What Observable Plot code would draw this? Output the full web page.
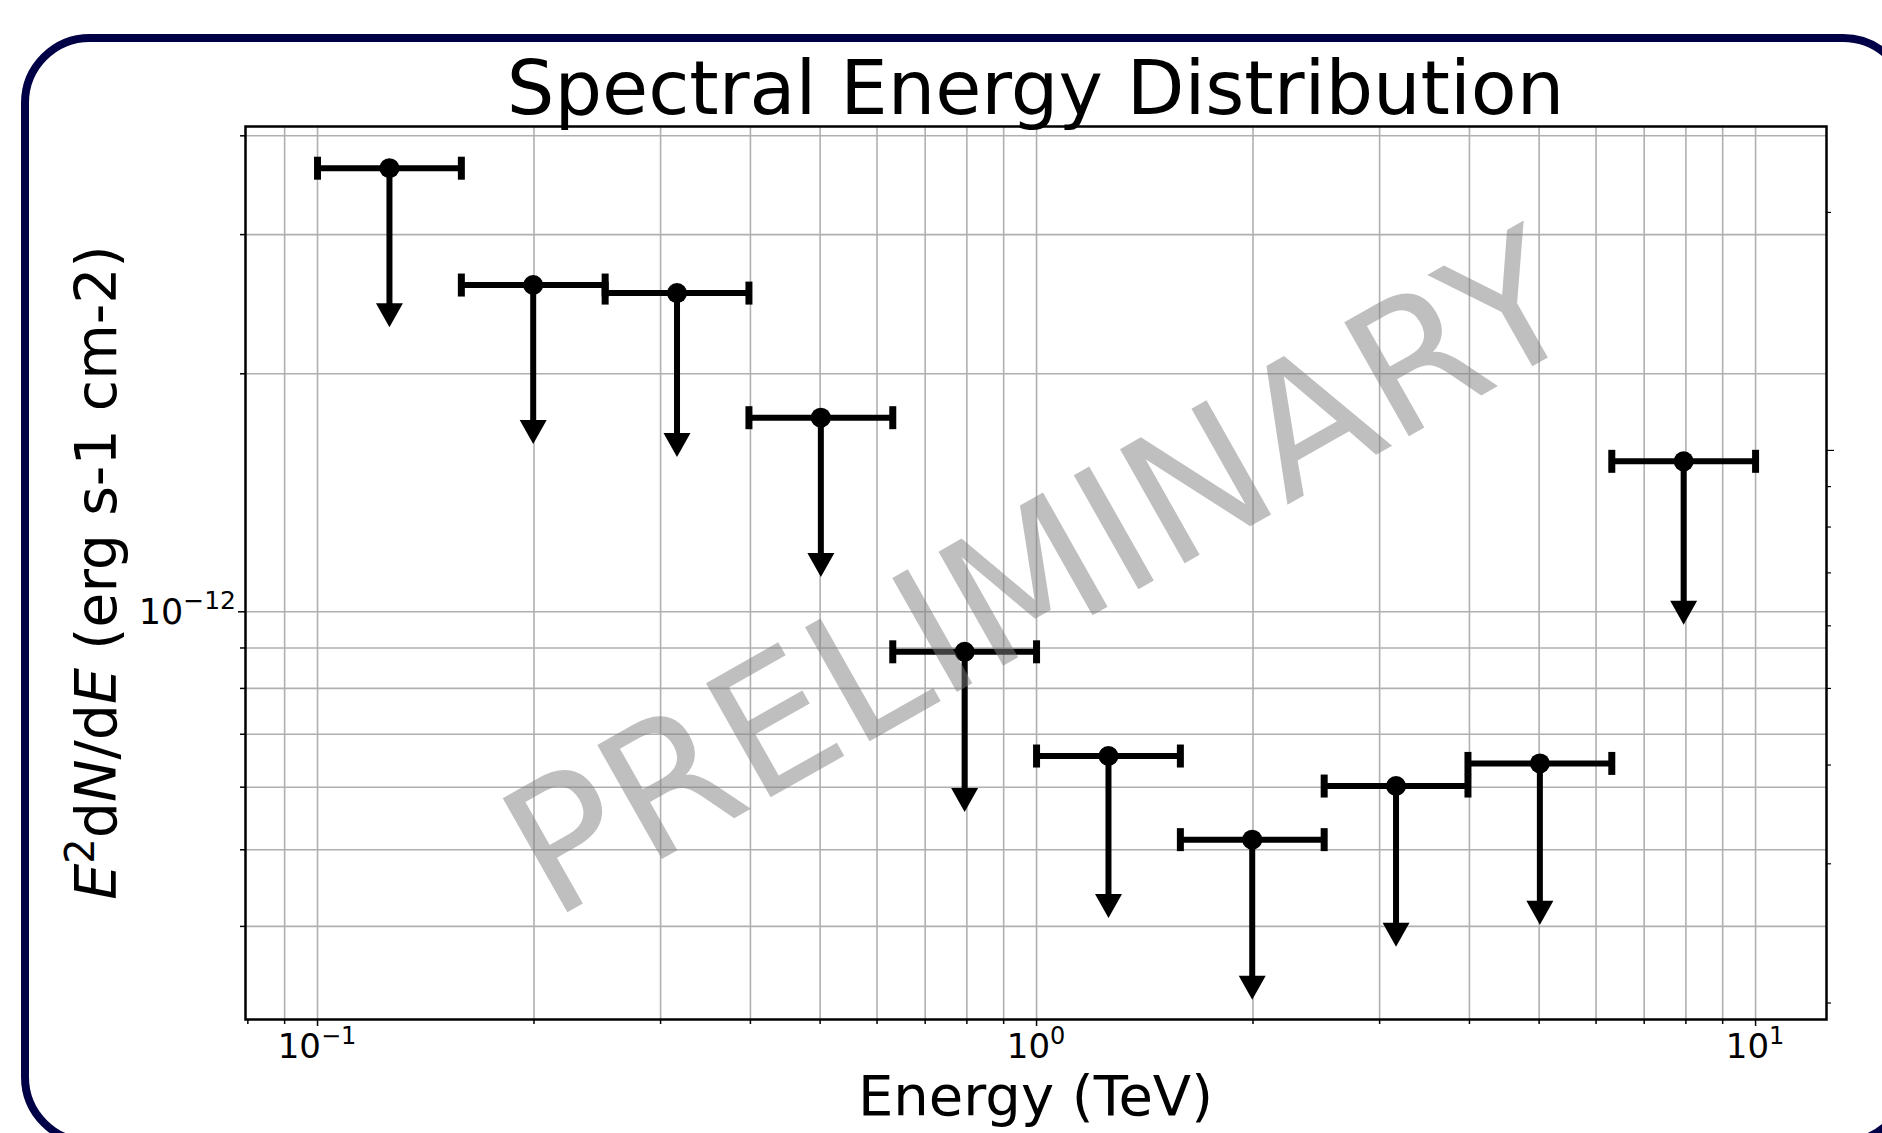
<!DOCTYPE html>
<html>
<head>
<meta charset="utf-8">
<script src="https://cdn.jsdelivr.net/npm/d3@7"></script>
<script src="https://cdn.jsdelivr.net/npm/@observablehq/plot@0.6"></script>
<style>
html, body { margin: 0; padding: 0; background: #fff; }
#chart { position: relative; width: 1882px; height: 1133px; overflow: hidden; }
svg { font-family: "DejaVu Sans", sans-serif; }
</style>
</head>
<body>
<div id="chart"></div>
<script>
// ---- data ----
const energy   = [0.1259, 0.1995, 0.3162, 0.5012, 0.7943, 1.259, 1.995, 3.162, 5.012, 7.943];
const energyLo = [0.1, 0.1585, 0.2512, 0.3981, 0.631, 1.0, 1.585, 2.512, 3.981, 6.31];
const energyHi = [0.1585, 0.2512, 0.3981, 0.631, 1.0, 1.585, 2.512, 3.981, 6.31, 10.0];
const flux     = [3.64e-12, 2.59e-12, 2.53e-12, 1.76e-12, 8.9e-13, 6.57e-13, 5.15e-13, 6.02e-13, 6.43e-13, 1.55e-12];
const arrowTip = [2.29e-12, 1.63e-12, 1.57e-12, 1.107e-12, 5.58e-13, 4.10e-13, 3.23e-13, 3.77e-13, 4.02e-13, 9.63e-13];

const xMajorTicks  = [0.1, 1, 10];
const xMajorLabels = [["10", "\u22121"], ["10", "0"], ["10", "1"]];
const xMinorTicks  = [0.08, 0.09, 0.2, 0.3, 0.4, 0.5, 0.6, 0.7, 0.8, 0.9, 2, 3, 4, 5, 6, 7, 8, 9];
const xGridTicks   = [0.09, 0.2, 0.3, 0.4, 0.5, 0.6, 0.7, 0.8, 0.9, 2, 3, 4, 5, 6, 7, 8, 9];
const yMajorTicks  = [1e-12];
const yMajorLabels = [["10", "\u221212"]];
const yMinorTicks  = [4e-12, 3e-12, 2e-12, 9e-13, 8e-13, 7e-13, 6e-13, 5e-13, 4e-13];
const rightMajorTicks = [1.6e-12];
const rightMinorTicks = [3.2e-12, 1.44e-12, 1.28e-12, 1.12e-12, 9.6e-13, 8.0e-13, 6.4e-13, 4.8e-13, 3.2e-13];

const titleText = "Spectral Energy Distribution";
const xLabelText = "Energy (TeV)";
const watermarkText = "PRELIMINARY";

const xDomain = [0.0794, 12.55];
const yDomain = [3.05e-13, 4.11e-12];

const points = energy.map((e, i) => ({x: e, lo: energyLo[i], hi: energyHi[i], y: flux[i], tip: arrowTip[i]}));
const gridX = [...xGridTicks, ...xMajorTicks];
const gridY = [...yMinorTicks, ...yMajorTicks];

// custom symbols (pixel-sized)
const capSymbol = {draw(ctx) { ctx.rect(-3.5, -11.5, 7, 23); }};
const headSymbol = {draw(ctx) { ctx.moveTo(-13.5, -24); ctx.lineTo(13.5, -24); ctx.lineTo(0, 0); ctx.closePath(); }};

const W = 1882, H = 1133;
const mL = 245, mR = 56, mT = 126, mB = 114;

const chart = Plot.plot({
  width: W, height: H,
  marginLeft: mL, marginRight: mR, marginTop: mT, marginBottom: mB,
  style: {fontFamily: "DejaVu Sans", background: "white", overflow: "hidden"},
  x: {type: "log", domain: xDomain, axis: null, label: null},
  y: {type: "log", domain: yDomain, axis: null, label: null},
  marks: [
    Plot.ruleX(gridX, {x: d => d, stroke: "#b0b0b0", strokeWidth: 1.6}),
    Plot.ruleY(gridY, {y: d => d, stroke: "#b0b0b0", strokeWidth: 1.6}),
    Plot.frame({stroke: "black", strokeWidth: 2.5}),
    Plot.ruleY(points, {y: "y", x1: "lo", x2: "hi", stroke: "black", strokeWidth: 6, ariaLabel: "error-bars"}),
    Plot.dot(points, {x: "lo", y: "y", symbol: capSymbol, fill: "black", stroke: "none"}),
    Plot.dot(points, {x: "hi", y: "y", symbol: capSymbol, fill: "black", stroke: "none"}),
    Plot.arrow(points, {x: "x", y1: "y", y2: "tip", headLength: 0, insetEnd: 20, stroke: "black", strokeWidth: 6, strokeLinecap: "butt"}),
    Plot.dot(points, {x: "x", y: "tip", symbol: headSymbol, fill: "black", stroke: "none"}),
    Plot.dot(points, {x: "x", y: "y", r: 10, fill: "black", stroke: "none"}),
    Plot.axisX({ticks: xMinorTicks, anchor: "bottom", tickSize: 5, strokeWidth: 1.5, tickFormat: () => "", label: null}),
    Plot.axisX({ticks: xMajorTicks, anchor: "bottom", tickSize: 7, strokeWidth: 1.5, tickFormat: () => "", label: null}),
    Plot.axisY({ticks: yMinorTicks, anchor: "left", tickSize: 5, strokeWidth: 1.5, tickFormat: () => "", label: null}),
    Plot.axisY({ticks: yMajorTicks, anchor: "left", tickSize: 7, strokeWidth: 1.5, tickFormat: () => "", label: null}),
    Plot.axisY({ticks: rightMinorTicks, anchor: "right", tickSize: 4, strokeWidth: 1.2, tickFormat: () => "", label: null}),
    Plot.axisY({ticks: rightMajorTicks, anchor: "right", tickSize: 7, strokeWidth: 1.2, tickFormat: () => "", label: null})
  ]
});

document.getElementById("chart").appendChild(chart);

// scales from the library
let sx, sy;
try { const s = chart.scale("x"); sx = v => s.apply(v); } catch (e) { sx = d3.scaleLog(xDomain, [mL, W - mR]); }
try { const s = chart.scale("y"); sy = v => s.apply(v); } catch (e) { sy = d3.scaleLog(yDomain, [H - mB, mT]); }

const svg = d3.select(chart);
const ns = "http://www.w3.org/2000/svg";

// watermark, below data marks
const eb = chart.querySelector('g[aria-label="error-bars"]');
const wm = document.createElementNS(ns, "text");
d3.select(wm)
  .attr("transform", "translate(1070,628) rotate(-29.5)")
  .attr("text-anchor", "middle")
  .attr("font-size", 180)
  .attr("fill", "gray")
  .attr("fill-opacity", 0.5)
  .text(watermarkText);
if (eb) chart.insertBefore(wm, eb); else chart.appendChild(wm);

// tick labels with superscripts
function supLabel(g, x, y, anchor, parts, size, supSize, rise) {
  const t = g.append("text").attr("x", x).attr("y", y).attr("text-anchor", anchor)
    .attr("font-size", size).attr("fill", "black");
  t.append("tspan").text(parts[0]);
  t.append("tspan").attr("font-size", supSize).attr("dy", -rise).text(parts[1]);
}
const lab = svg.append("g").attr("aria-label", "tick-labels");
xMajorTicks.forEach((v, i) => supLabel(lab, sx(v), 1058, "middle", xMajorLabels[i], 34, 24, 14));
yMajorTicks.forEach((v, i) => supLabel(lab, 236, sy(v) + 13, "end", yMajorLabels[i], 35, 25, 15));

// title
svg.append("text").attr("x", (mL + W - mR) / 2).attr("y", 114).attr("text-anchor", "middle")
  .attr("font-size", 75).attr("fill", "black").text(titleText);

// x label
svg.append("text").attr("x", (mL + W - mR) / 2).attr("y", 1115).attr("text-anchor", "middle")
  .attr("font-size", 56).attr("fill", "black").text(xLabelText);

// y label: E^2 dN/dE (erg s-1 cm-2)
const yl = svg.append("text").attr("transform", `translate(116,${(mT + H - mB) / 2}) rotate(-90)`)
  .attr("text-anchor", "middle").attr("font-size", 57).attr("fill", "black");
yl.append("tspan").attr("font-style", "italic").text("E");
yl.append("tspan").attr("font-size", 40).attr("dy", -22).text("2");
yl.append("tspan").attr("dy", 22).text("d");
yl.append("tspan").attr("font-style", "italic").text("N");
yl.append("tspan").text("/d");
yl.append("tspan").attr("font-style", "italic").text("E");
yl.append("tspan").text("\u00a0(erg s-1 cm-2)");

// rounded navy border of the slide panel
svg.append("rect").attr("x", 25).attr("y", 38).attr("width", 1883).attr("height", 1104)
  .attr("rx", 65).attr("ry", 65).attr("fill", "none").attr("stroke", "#000046").attr("stroke-width", 8);
</script>
</body>
</html>
